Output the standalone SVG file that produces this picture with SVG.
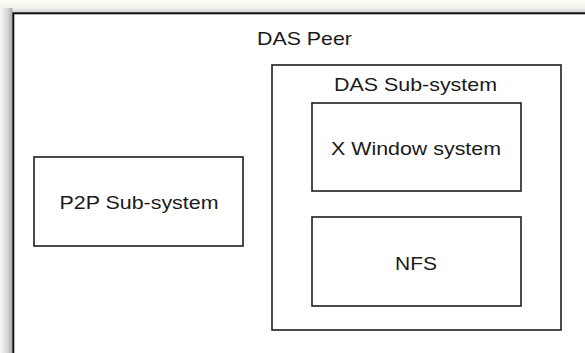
<svg xmlns="http://www.w3.org/2000/svg" width="585" height="353" viewBox="0 0 585 353">
<defs>
<linearGradient id="shL" x1="0" y1="0" x2="1" y2="0">
<stop offset="0" stop-color="#fafafa"/>
<stop offset="0.6" stop-color="#d6d6d6"/>
<stop offset="1" stop-color="#a8a8a8"/>
</linearGradient>
<linearGradient id="shT" x1="0" y1="0" x2="0" y2="1">
<stop offset="0" stop-color="#fdfdf3"/>
<stop offset="0.6" stop-color="#f2f2ee"/>
<stop offset="1" stop-color="#d0d0d0"/>
</linearGradient>
<style>
.box{fill:#ffffff;stroke:#1e1e1e;stroke-width:1.6}
.outer{fill:#ffffff;stroke:#111111;stroke-width:2}
.lbl{font-family:"Liberation Sans",Arial,sans-serif;font-size:18.6px;fill:#1a1a1a;text-anchor:middle}
</style>
</defs>
<rect x="0" y="0" width="585" height="353" fill="#ffffff"/>
<rect x="0" y="0" width="585" height="13" fill="url(#shT)"/>
<rect x="0" y="8" width="12.5" height="345" fill="url(#shL)"/>
<g id="das-peer">
<rect class="outer" x="13.3" y="13.3" width="620" height="400"/>
<text class="lbl" x="304.5" y="45" textLength="95" lengthAdjust="spacingAndGlyphs">DAS Peer</text>
</g>
<g id="p2p-subsystem">
<rect class="box" x="34" y="157" width="209" height="89"/>
<text class="lbl" x="139" y="209" textLength="159" lengthAdjust="spacingAndGlyphs">P2P Sub-system</text>
</g>
<g id="das-subsystem">
<rect class="box" x="272" y="65" width="289" height="265"/>
<text class="lbl" x="415.5" y="91" textLength="163" lengthAdjust="spacingAndGlyphs">DAS Sub-system</text>
</g>
<g id="x-window-system">
<rect class="box" x="312" y="103" width="209" height="88"/>
<text class="lbl" x="416" y="155" textLength="170" lengthAdjust="spacingAndGlyphs">X Window system</text>
</g>
<g id="nfs">
<rect class="box" x="312" y="217" width="209" height="89"/>
<text class="lbl" x="416" y="269.5" textLength="42" lengthAdjust="spacingAndGlyphs">NFS</text>
</g>
<g id="connectors"></g>
</svg>
